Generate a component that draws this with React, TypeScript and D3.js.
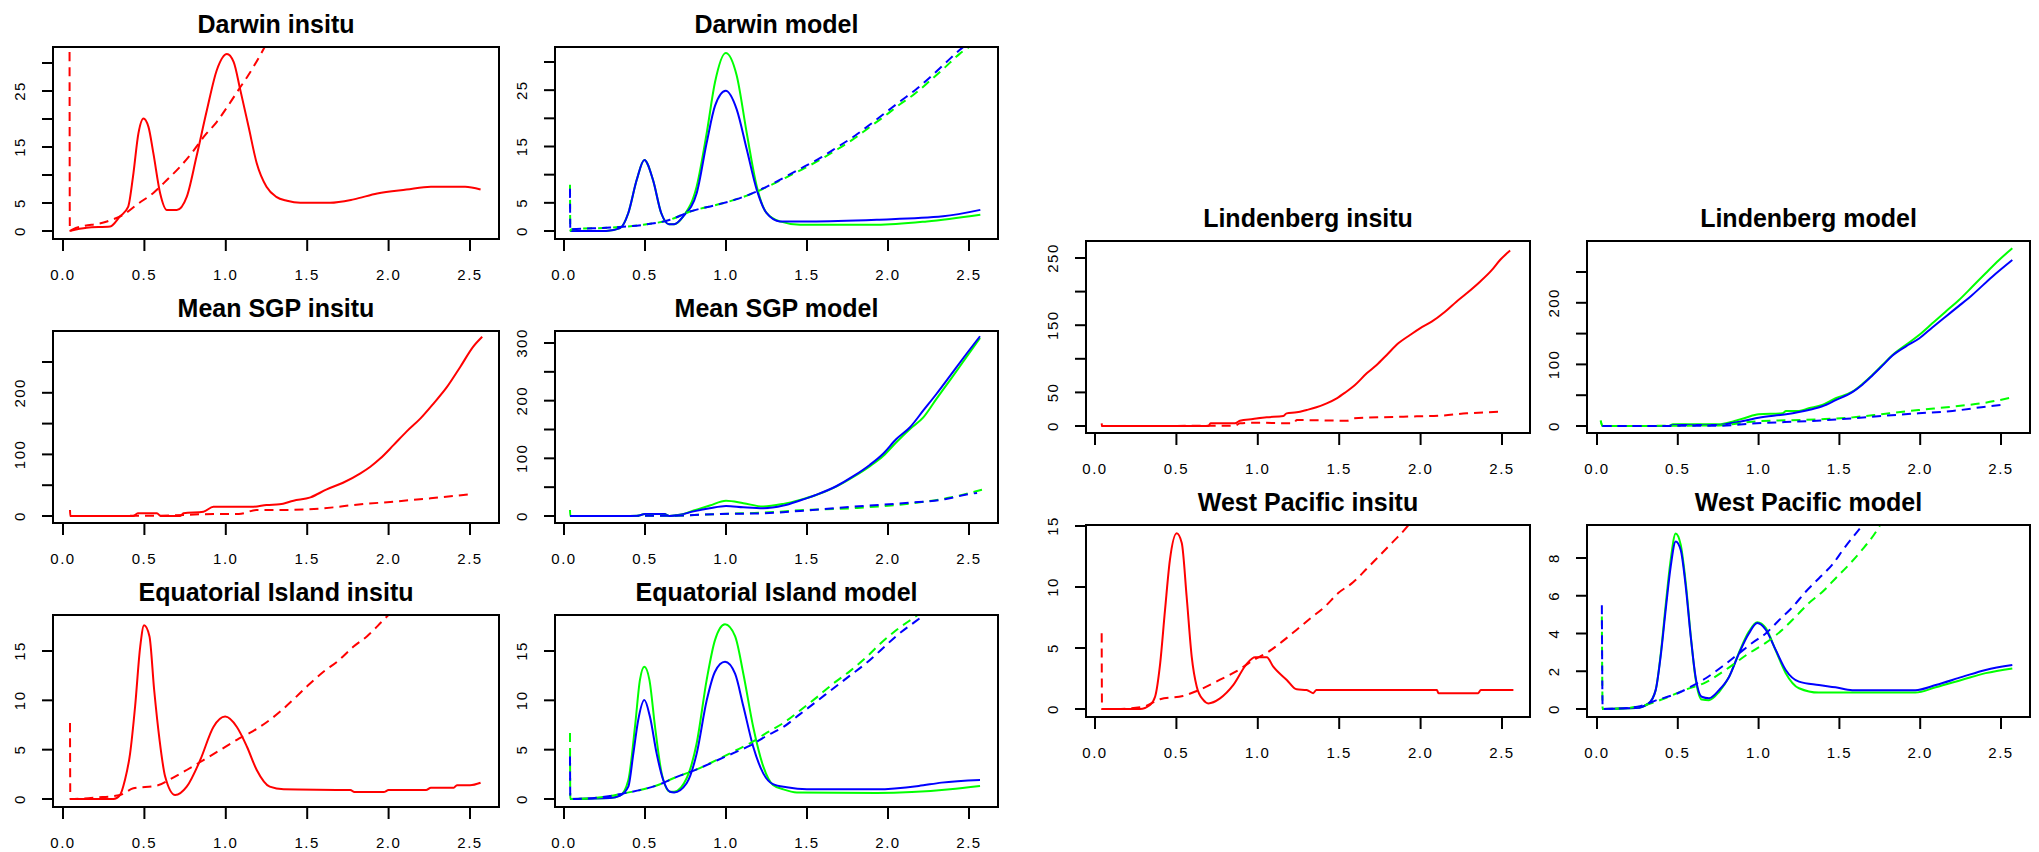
import React from 'react';
import * as d3 from 'd3';

type Pt = [number, number];

const xTicks = [0, 0.5, 1, 1.5, 2, 2.5];
const xTickLabels = ['0.0', '0.5', '1.0', '1.5', '2.0', '2.5'];

// ---- Darwin ----
const darwinInsituSolid: Pt[] = [[0.04,0],[0.146,0.6],[0.29,0.8],[0.35,2.6],[0.40,4.3],[0.43,9.7],[0.463,17.4],[0.494,20.1],[0.525,18.6],[0.555,13.9],[0.597,6.7],[0.638,3.75],[0.699,3.75],[0.76,6.1],[0.82,13.3],[0.884,21.6],[0.945,28.75],[1.007,31.6],[1.048,30.2],[1.089,25.2],[1.14,18.6],[1.19,12.1],[1.25,7.9],[1.31,6.1],[1.376,5.4],[1.458,5.05],[1.64,5.05],[1.786,5.65],[1.93,6.7],[2.11,7.4],[2.26,7.9],[2.47,7.9],[2.565,7.4]];
const darwinInsituDashed: Pt[] = [[0.04,40],[0.042,0],[0.06,0.3],[0.27,1.7],[0.37,2.9],[0.463,4.9],[0.555,6.8],[0.638,9.1],[0.72,11.5],[0.79,13.9],[0.873,17.1],[0.945,19.5],[1.017,22.5],[1.078,25.2],[1.14,27.9],[1.2,30.8],[1.26,34]];
const darwinModelGreen: Pt[] = [[0.037,0],[0.26,0],[0.346,0.5],[0.397,3.2],[0.449,9.1],[0.496,12.6],[0.549,9.1],[0.6,3.2],[0.648,1.2],[0.68,1.2],[0.736,2.6],[0.819,7.9],[0.881,17.4],[0.932,26.4],[0.998,31.6],[1.066,27.6],[1.128,17.4],[1.19,7.9],[1.25,3.2],[1.333,1.7],[1.457,1.1],[1.93,1.1],[2.24,1.7],[2.57,2.9]];
const darwinModelBlue: Pt[] = [[0.037,0],[0.26,0],[0.346,0.5],[0.397,3.2],[0.449,9.1],[0.496,12.6],[0.549,9.1],[0.6,3.2],[0.648,1.2],[0.68,1.2],[0.736,2.6],[0.819,6.7],[0.881,15.7],[0.932,22.2],[0.998,24.9],[1.066,21.6],[1.128,14.5],[1.19,7.3],[1.25,3.2],[1.333,1.7],[1.52,1.7],[1.93,2.0],[2.34,2.6],[2.57,3.75]];
const darwinModelGreenDashed: Pt[] = [[0.037,8.2],[0.039,0],[0.045,0.3],[0.284,0.6],[0.49,1.1],[0.654,2.0],[0.778,3.45],[0.943,4.65],[1.066,5.65],[1.18,6.85],[1.28,8.2],[1.385,9.7],[1.488,11.2],[1.59,12.8],[1.693,14.6],[1.796,16.5],[1.889,18.5],[1.98,20.4],[2.074,22.5],[2.167,24.4],[2.26,26.7],[2.35,29.0],[2.44,31.4],[2.55,33.5]];
const darwinModelBlueDashed: Pt[] = [[0.037,7.5],[0.039,0],[0.045,0.3],[0.284,0.6],[0.49,1.1],[0.654,2.0],[0.778,3.45],[0.943,4.65],[1.066,5.65],[1.18,6.9],[1.28,8.3],[1.385,9.9],[1.488,11.5],[1.59,13.1],[1.693,15.0],[1.796,16.9],[1.889,18.9],[1.98,20.9],[2.074,23.0],[2.167,25.0],[2.26,27.3],[2.35,29.7],[2.44,32.1],[2.55,34.5]];

// ---- Mean SGP ----
const sgpInsituSolid: Pt[] = [[0.043,9.7],[0.045,0],[0.43,0],[0.46,4.3],[0.577,4.3],[0.6,0],[0.72,0],[0.74,4.3],[0.863,7],[0.924,15.1],[1.17,15.1],[1.25,17.9],[1.33,19],[1.416,24.9],[1.52,30.3],[1.62,43.3],[1.72,54],[1.827,69.3],[1.888,80],[1.95,93.6],[2.03,115],[2.11,137],[2.196,158.5],[2.277,183],[2.36,210],[2.44,242],[2.52,275],[2.575,291]];
const sgpInsituDashed: Pt[] = [[0.043,0],[0.6,0.5],[0.924,3.2],[1.08,3.2],[1.19,9.7],[1.33,9.7],[1.66,14],[1.787,17.9],[2.03,23.3],[2.257,28.7],[2.5,35.2]];
const sgpModelGreen: Pt[] = [[0.037,10.5],[0.039,0],[0.449,0],[0.5,3.5],[0.62,3.5],[0.65,0],[0.716,2],[0.8,9.4],[0.9,18.1],[1.0,26.3],[1.107,22.2],[1.23,16.4],[1.354,21],[1.457,28],[1.56,36.8],[1.683,51.4],[1.786,67.8],[1.889,86.5],[1.97,104],[2.05,127.5],[2.136,151],[2.218,171],[2.3,203.5],[2.383,235.6],[2.465,268],[2.568,308.8]];
const sgpModelBlue: Pt[] = [[0.037,0],[0.449,0],[0.5,3.5],[0.62,3.5],[0.65,0],[0.716,2],[0.8,8],[0.9,13.5],[1.0,17.5],[1.107,15.2],[1.23,13.5],[1.354,18.1],[1.457,27],[1.56,37],[1.683,52],[1.786,69],[1.889,89],[1.97,108],[2.05,133],[2.136,154],[2.218,183],[2.3,212],[2.383,243],[2.465,274],[2.568,311.7]];
const sgpModelGreenDashed: Pt[] = [[0.037,0],[0.65,0.5],[0.965,3.5],[1.23,5.8],[1.457,9.9],[1.81,14],[2.136,21.6],[2.383,32],[2.58,45.6]];
const sgpModelBlueDashed: Pt[] = [[0.037,0],[0.65,0.5],[0.965,3.5],[1.23,4.7],[1.457,8.8],[1.85,17.5],[2.136,23],[2.35,29],[2.5,38],[2.55,40]];

// ---- Equatorial Island ----
const eqInsituSolid: Pt[] = [[0.043,0],[0.31,0],[0.35,0.4],[0.38,1.9],[0.412,4.6],[0.443,9.4],[0.474,15.4],[0.498,17.6],[0.531,16.5],[0.56,11.05],[0.593,6],[0.627,2.3],[0.689,0.4],[0.76,1.25],[0.843,3.95],[0.924,7.3],[0.996,8.35],[1.068,7.3],[1.13,5.3],[1.19,2.94],[1.27,1.25],[1.355,0.98],[1.765,0.91],[1.79,0.7],[1.97,0.7],[2.0,0.9],[2.23,0.9],[2.26,1.15],[2.4,1.15],[2.42,1.4],[2.5,1.4],[2.565,1.65]];
const eqInsituDashed: Pt[] = [[0.043,7.7],[0.045,0],[0.207,0.15],[0.35,0.4],[0.432,1.08],[0.576,1.35],[0.658,2.0],[0.76,2.94],[0.863,3.95],[0.966,4.97],[1.068,6.0],[1.17,6.9],[1.334,8.86],[1.416,10.1],[1.498,11.4],[1.6,12.9],[1.683,13.9],[1.785,15.45],[1.868,16.5],[1.96,18],[2.02,19]];
const eqModelGreen: Pt[] = [[0.037,0],[0.284,0.1],[0.346,0.34],[0.397,1.9],[0.438,7.3],[0.469,12.1],[0.496,13.4],[0.527,12.1],[0.562,7.3],[0.603,2.6],[0.654,0.74],[0.68,0.74],[0.757,2.1],[0.819,5.65],[0.881,12.1],[0.932,16.1],[0.994,17.7],[1.056,16.5],[1.107,12.7],[1.168,7.3],[1.23,3.3],[1.29,1.42],[1.354,0.98],[1.437,0.67],[1.93,0.6],[2.383,0.98],[2.568,1.32]];
const eqModelBlue: Pt[] = [[0.037,0],[0.284,0.1],[0.346,0.34],[0.397,1.25],[0.428,4.6],[0.458,8.0],[0.496,10.04],[0.531,8.3],[0.572,4.6],[0.613,1.9],[0.654,0.74],[0.68,0.67],[0.757,1.6],[0.819,4.6],[0.881,10],[0.932,12.9],[0.994,13.9],[1.056,12.7],[1.107,9.4],[1.168,5.3],[1.23,2.6],[1.29,1.5],[1.375,1.18],[1.5,0.98],[1.93,0.98],[2.19,1.32],[2.33,1.66],[2.568,1.93]];
const eqModelGreenDashed: Pt[] = [[0.037,6.7],[0.039,0],[0.284,0.3],[0.366,0.57],[0.49,0.98],[0.593,1.5],[0.675,2.1],[0.819,3.0],[0.943,3.95],[1.066,4.97],[1.148,5.65],[1.25,6.7],[1.354,7.7],[1.457,8.97],[1.56,10.3],[1.662,11.7],[1.765,12.96],[1.868,14.4],[1.95,15.7],[2.05,17.1],[2.17,18.5],[2.25,19.5]];
const eqModelBlueDashed: Pt[] = [[0.037,4.3],[0.039,0],[0.284,0.3],[0.366,0.57],[0.49,0.98],[0.593,1.5],[0.675,2.1],[0.819,3.0],[0.943,3.9],[1.066,4.8],[1.148,5.4],[1.25,6.4],[1.354,7.3],[1.457,8.6],[1.56,9.9],[1.662,11.2],[1.765,12.5],[1.868,13.8],[1.95,15.0],[2.05,16.5],[2.17,18.0],[2.28,19.3]];

// ---- Lindenberg ----
const linInsituSolid: Pt[] = [[0.041,4],[0.043,0],[0.696,0],[0.71,4],[0.86,4],[0.89,7.9],[0.97,10.4],[1.055,12.9],[1.157,14.9],[1.177,18.8],[1.239,20.3],[1.3,23.8],[1.36,27.8],[1.423,33.7],[1.485,41.2],[1.536,49.6],[1.597,61],[1.669,78.4],[1.73,90.8],[1.792,105.7],[1.863,123],[1.935,135.4],[1.996,145.4],[2.068,155.2],[2.15,170],[2.22,185],[2.283,197.5],[2.365,214.8],[2.437,232],[2.488,247],[2.55,261]];
const linInsituDashed: Pt[] = [[0.041,0],[0.86,0.5],[0.89,4],[0.97,5],[1.22,4],[1.239,8.9],[1.55,7.9],[1.59,11.4],[1.894,13.9],[2.12,15.4],[2.283,18.8],[2.508,21.3]];
const linModelGreen: Pt[] = [[0.023,8.7],[0.033,0],[0.446,0],[0.47,2.7],[0.755,2.7],[0.837,7],[0.92,13.5],[1.0,19],[1.147,20.6],[1.17,24.4],[1.25,24.4],[1.31,28.7],[1.394,34.1],[1.477,45],[1.58,55.7],[1.642,68.2],[1.704,82.8],[1.766,99],[1.827,115],[1.91,131.5],[1.993,147.7],[2.075,166.7],[2.157,185.6],[2.24,204.5],[2.322,226],[2.405,248],[2.488,269.5],[2.57,288.5]];
const linModelBlue: Pt[] = [[0.033,0],[0.446,0],[0.47,1.5],[0.755,1.5],[0.837,5],[0.92,9],[1.0,13.5],[1.17,19],[1.31,26],[1.394,32],[1.477,42],[1.58,55],[1.642,67],[1.704,82],[1.766,98],[1.827,114],[1.91,129],[1.993,142],[2.075,160],[2.157,177.5],[2.24,195],[2.322,212.7],[2.446,242.4],[2.57,269.5]];
const linModelGreenDashed: Pt[] = [[0.023,8.7],[0.033,0],[0.755,1],[0.96,7],[1.36,10.8],[1.58,14],[1.787,20],[1.99,25.9],[2.2,31.4],[2.405,37.9],[2.57,46.5]];
const linModelBlueDashed: Pt[] = [[0.033,0],[0.755,0.5],[0.96,4],[1.36,8.7],[1.58,12.4],[1.787,16.8],[1.99,20.6],[2.2,24.4],[2.405,31.4],[2.5,34.1]];

// ---- West Pacific ----
const wpInsituSolid: Pt[] = [[0.041,0],[0.276,0],[0.338,0.33],[0.369,1.0],[0.4,3.7],[0.43,8.1],[0.46,12.2],[0.502,14.4],[0.533,13.6],[0.563,9.2],[0.594,4.3],[0.625,1.83],[0.665,0.74],[0.696,0.46],[0.768,0.87],[0.85,1.97],[0.932,3.7],[0.983,4.24],[1.055,4.24],[1.095,3.47],[1.178,2.38],[1.239,1.61],[1.3,1.56],[1.34,1.3],[1.36,1.56],[2.1,1.56],[2.11,1.3],[2.354,1.3],[2.37,1.56],[2.57,1.56]];
const wpInsituDashed: Pt[] = [[0.041,6.2],[0.043,0],[0.13,0],[0.3,0.2],[0.4,0.8],[0.54,1.07],[0.64,1.56],[0.768,2.4],[0.87,3.1],[0.972,4.0],[1.055,4.6],[1.147,5.5],[1.239,6.5],[1.32,7.4],[1.413,8.4],[1.494,9.5],[1.587,10.4],[1.669,11.5],[1.75,12.6],[1.83,13.7],[1.915,14.9],[1.95,15.5]];
const wpModelBlue: Pt[] = [[0.033,0],[0.24,0.05],[0.32,0.3],[0.363,1.0],[0.394,2.8],[0.425,5.25],[0.456,7.55],[0.487,8.88],[0.518,8.43],[0.549,6.5],[0.58,3.84],[0.61,1.7],[0.648,0.65],[0.693,0.57],[0.755,1.0],[0.817,1.7],[0.879,2.95],[0.94,4.0],[0.992,4.55],[1.044,4.2],[1.106,3.13],[1.168,2.07],[1.25,1.45],[1.373,1.27],[1.476,1.15],[1.58,1.0],[1.97,1.0],[2.096,1.27],[2.26,1.7],[2.405,2.07],[2.57,2.33]];
const wpModelGreen: Pt[] = [[0.033,0],[0.24,0.05],[0.32,0.3],[0.363,1.0],[0.394,2.9],[0.425,5.5],[0.456,7.9],[0.487,9.3],[0.518,8.7],[0.549,6.7],[0.58,3.9],[0.61,1.6],[0.648,0.5],[0.693,0.47],[0.755,0.9],[0.817,1.7],[0.879,3.0],[0.94,4.1],[0.992,4.6],[1.044,4.3],[1.106,3.1],[1.168,1.9],[1.25,1.1],[1.373,0.87],[1.97,0.87],[2.096,1.15],[2.26,1.55],[2.405,1.9],[2.57,2.15]];
const wpModelBlueDashed: Pt[] = [[0.03,5.5],[0.035,0],[0.24,0.1],[0.38,0.5],[0.49,0.8],[0.59,1.22],[0.673,1.63],[0.775,2.25],[0.879,2.95],[0.96,3.5],[1.044,4.0],[1.126,4.7],[1.21,5.4],[1.29,6.2],[1.374,6.93],[1.456,7.65],[1.528,8.5],[1.611,9.4],[1.65,9.8]];
const wpModelGreenDashed: Pt[] = [[0.03,4.9],[0.035,0],[0.24,0.1],[0.4,0.5],[0.54,1.0],[0.67,1.4],[0.8,2.1],[0.94,2.95],[1.044,3.5],[1.147,4.2],[1.23,4.9],[1.31,5.6],[1.394,6.2],[1.477,6.93],[1.56,7.65],[1.64,8.43],[1.714,9.23],[1.75,9.7]];

const RED = '#FF0000';
const GREEN = '#00FF00';
const BLUE = '#0000FF';
const DASH = '9,6';

interface Series { data: Pt[]; color: string; dashed: boolean; }
interface Panel {
  id: string; title: string;
  box: [number, number, number, number];
  xr: [number, number];
  yd: [number, number]; yr: [number, number];
  yTicks: number[]; yLabels: number[];
  series: Series[];
}

const S = (data: Pt[], color: string, dashed = false): Series => ({ data, color, dashed });

const panels: Panel[] = [
  { id: 'p1', title: 'Darwin insitu', box: [53, 47, 499, 239], xr: [63, 470], yd: [0, 30], yr: [231, 63],
    yTicks: [0, 5, 10, 15, 20, 25, 30], yLabels: [0, 5, 15, 25],
    series: [S(darwinInsituSolid, RED), S(darwinInsituDashed, RED, true)] },
  { id: 'p2', title: 'Darwin model', box: [555, 47, 998, 239], xr: [564, 969], yd: [0, 30], yr: [231, 62],
    yTicks: [0, 5, 10, 15, 20, 25, 30], yLabels: [0, 5, 15, 25],
    series: [S(darwinModelGreen, GREEN), S(darwinModelBlue, BLUE), S(darwinModelGreenDashed, GREEN, true), S(darwinModelBlueDashed, BLUE, true)] },
  { id: 'p3', title: 'Mean SGP insitu', box: [53, 331, 499, 523], xr: [63, 470], yd: [0, 250], yr: [516, 362],
    yTicks: [0, 50, 100, 150, 200, 250], yLabels: [0, 100, 200],
    series: [S(sgpInsituSolid, RED), S(sgpInsituDashed, RED, true)] },
  { id: 'p4', title: 'Mean SGP model', box: [555, 331, 998, 523], xr: [564, 969], yd: [0, 300], yr: [516, 343],
    yTicks: [0, 50, 100, 150, 200, 250, 300], yLabels: [0, 100, 200, 300],
    series: [S(sgpModelGreen, GREEN), S(sgpModelBlue, BLUE), S(sgpModelGreenDashed, GREEN, true), S(sgpModelBlueDashed, BLUE, true)] },
  { id: 'p5', title: 'Equatorial Island insitu', box: [53, 615, 499, 807], xr: [63, 470], yd: [0, 15], yr: [799, 651],
    yTicks: [0, 5, 10, 15], yLabels: [0, 5, 10, 15],
    series: [S(eqInsituSolid, RED), S(eqInsituDashed, RED, true)] },
  { id: 'p6', title: 'Equatorial Island model', box: [555, 615, 998, 807], xr: [564, 969], yd: [0, 15], yr: [799, 651],
    yTicks: [0, 5, 10, 15], yLabels: [0, 5, 10, 15],
    series: [S(eqModelGreen, GREEN), S(eqModelBlue, BLUE), S(eqModelGreenDashed, GREEN, true), S(eqModelBlueDashed, BLUE, true)] },
  { id: 'p7', title: 'Lindenberg insitu', box: [1086, 241, 1530, 433], xr: [1095, 1502], yd: [0, 250], yr: [426, 258],
    yTicks: [0, 50, 100, 150, 200, 250], yLabels: [0, 50, 150, 250],
    series: [S(linInsituSolid, RED), S(linInsituDashed, RED, true)] },
  { id: 'p8', title: 'Lindenberg model', box: [1587, 241, 2030, 433], xr: [1597, 2001], yd: [0, 250], yr: [426, 272],
    yTicks: [0, 50, 100, 150, 200, 250], yLabels: [0, 100, 200],
    series: [S(linModelGreen, GREEN), S(linModelBlue, BLUE), S(linModelGreenDashed, GREEN, true), S(linModelBlueDashed, BLUE, true)] },
  { id: 'p9', title: 'West Pacific insitu', box: [1086, 525, 1530, 717], xr: [1095, 1502], yd: [0, 15], yr: [709, 526],
    yTicks: [0, 5, 10, 15], yLabels: [0, 5, 10, 15],
    series: [S(wpInsituSolid, RED), S(wpInsituDashed, RED, true)] },
  { id: 'p10', title: 'West Pacific model', box: [1587, 525, 2030, 717], xr: [1597, 2001], yd: [0, 8], yr: [709, 558],
    yTicks: [0, 2, 4, 6, 8], yLabels: [0, 2, 4, 6, 8],
    series: [S(wpModelGreen, GREEN), S(wpModelBlue, BLUE), S(wpModelGreenDashed, GREEN, true), S(wpModelBlueDashed, BLUE, true)] },
];

const FONT = '"Liberation Sans", Arial, Helvetica, sans-serif';

function PanelView({ p }: { p: Panel }) {
  const [l, t, r, b] = p.box;
  const x = d3.scaleLinear().domain([0, 2.5]).range(p.xr);
  const y = d3.scaleLinear().domain(p.yd).range(p.yr);
  const line = d3.line<Pt>().x(d => x(d[0])).y(d => y(d[1])).curve(d3.curveMonotoneX);
  return (
    <g>
      <defs>
        <clipPath id={`clip-${p.id}`}>
          <rect x={l} y={t} width={r - l} height={b - t} />
        </clipPath>
      </defs>
      <text x={(l + r) / 2} y={t - 14} textAnchor="middle" fontFamily={FONT} fontWeight="bold" fontSize={25} fill="#000">{p.title}</text>
      <g clipPath={`url(#clip-${p.id})`}>
        {p.series.map((s, i) => (
          <path key={i} d={line(s.data) || ''} fill="none" stroke={s.color} strokeWidth={2}
            strokeDasharray={s.dashed ? DASH : undefined} strokeLinejoin="round" />
        ))}
      </g>
      <rect x={l} y={t} width={r - l} height={b - t} fill="none" stroke="#000" strokeWidth={2} />
      {xTicks.map((v, i) => (
        <g key={`xt${i}`}>
          <line x1={x(v)} x2={x(v)} y1={b} y2={b + 12} stroke="#000" strokeWidth={2} />
          <text x={x(v)} y={b + 41} textAnchor="middle" fontFamily={FONT} fontSize={15} letterSpacing={1.5} fill="#000">{xTickLabels[i]}</text>
        </g>
      ))}
      {p.yTicks.map((v, i) => (
        <line key={`yt${i}`} x1={l - 11} x2={l} y1={y(v)} y2={y(v)} stroke="#000" strokeWidth={2} />
      ))}
      {p.yLabels.map((v, i) => (
        <text key={`yl${i}`} transform={`translate(${l - 28},${y(v)}) rotate(-90)`} textAnchor="middle"
          fontFamily={FONT} fontSize={15} letterSpacing={1.5} fill="#000">{String(v)}</text>
      ))}
    </g>
  );
}

export default function App() {
  return (
    <svg width={2039} height={852} style={{ position: 'absolute', left: 0, top: 0, background: '#fff' }}>
      <rect x={0} y={0} width={2039} height={852} fill="#fff" />
      {panels.map(p => <PanelView key={p.id} p={p} />)}
    </svg>
  );
}
